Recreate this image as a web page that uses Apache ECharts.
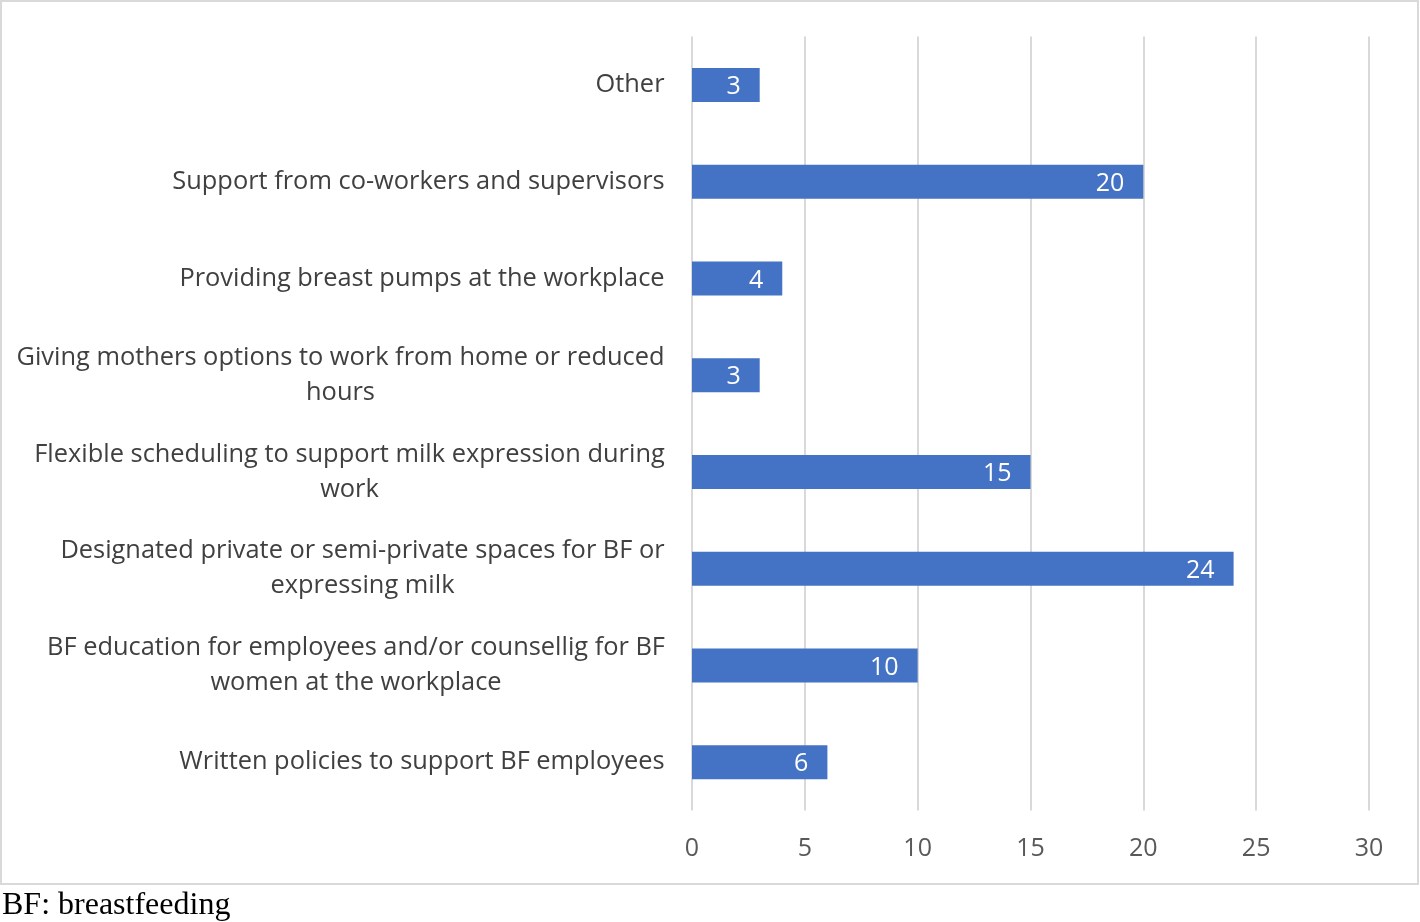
<!DOCTYPE html>
<html>
<head>
<meta charset="utf-8">
<script src="https://cdn.jsdelivr.net/npm/echarts@6/dist/echarts.min.js"></script>
<style>
  html, body { margin: 0; padding: 0; background: #fff; }
  #chart { position: absolute; left: 0; top: 0; width: 1420px; height: 922px; }
  #frame { position: absolute; left: 0; top: 0; width: 1419px; height: 885px; box-sizing: border-box;
           border: 2px solid #d9d9d9; pointer-events: none; }
  #note { position: absolute; left: 2px; top: 885px; font-family: "Liberation Serif", serif; font-size: 32px; color: #000; }
</style>
</head>
<body>
<div id="chart"></div>
<div id="frame"></div>
<div id="note">BF: breastfeeding</div>
<script>
// top to bottom, as in the figure
var categories = [
  'Other',
  'Support from co-workers and supervisors',
  'Providing breast pumps at the workplace',
  'Giving mothers options to work from home or reduced\nhours',
  'Flexible scheduling to support milk expression during\nwork',
  'Designated private or semi-private spaces for BF or\nexpressing milk',
  'BF education for employees and/or counsellig for BF\nwomen at the workplace',
  'Written policies to support BF employees'
]
var counts = [3, 20, 4, 3, 15, 24, 10, 6]
var ticks = [0, 5, 10, 15, 20, 25, 30]

var labelFont = '25.4px "Open Sans"'
var ctx = document.createElement('canvas').getContext('2d')
ctx.font = labelFont

// each multi-line label gets its own rich style so lines centre on each other
var rich = {}
categories.forEach(function (c, i) {
  var w = Math.max.apply(null, c.split('\n').map(function (l) { return ctx.measureText(l).width }))
  rich['l' + i] = { width: Math.ceil(w), align: 'center', fontFamily: 'Open Sans', fontSize: 25.4, color: '#404040', lineHeight: 35 }
})

var chart = echarts.init(document.getElementById('chart'))
chart.setOption({
  animation: false,
  grid: { left: 692, right: 51, top: 36.5, bottom: 111.5 },
  xAxis: {
    type: 'value',
    min: ticks[0],
    max: ticks[ticks.length - 1],
    interval: 5,
    axisLine: { show: false },
    axisTick: { show: false },
    splitLine: { lineStyle: { color: '#d9d9d9', width: 2 } },
    axisLabel: { color: '#595959', fontFamily: 'Open Sans', fontSize: 25, margin: 26 }
  },
  yAxis: {
    type: 'category',
    inverse: true,
    data: categories,
    axisLine: { show: false },
    axisTick: { show: false },
    axisLabel: {
      margin: 27,
      formatter: function (v) {
        var i = categories.indexOf(v)
        return v.split('\n').map(function (l) { return '{l' + i + '|' + l + '}' }).join('\n')
      },
      rich: rich
    }
  },
  series: [{
    type: 'bar',
    data: counts,
    barWidth: 34,
    itemStyle: { color: '#4472c4' },
    label: {
      show: true,
      position: 'insideRight',
      distance: 19,
      offset: [0, 2],
      color: '#fff',
      fontFamily: 'Open Sans',
      fontSize: 25
    }
  }]
})
</script>
</body>
</html>
